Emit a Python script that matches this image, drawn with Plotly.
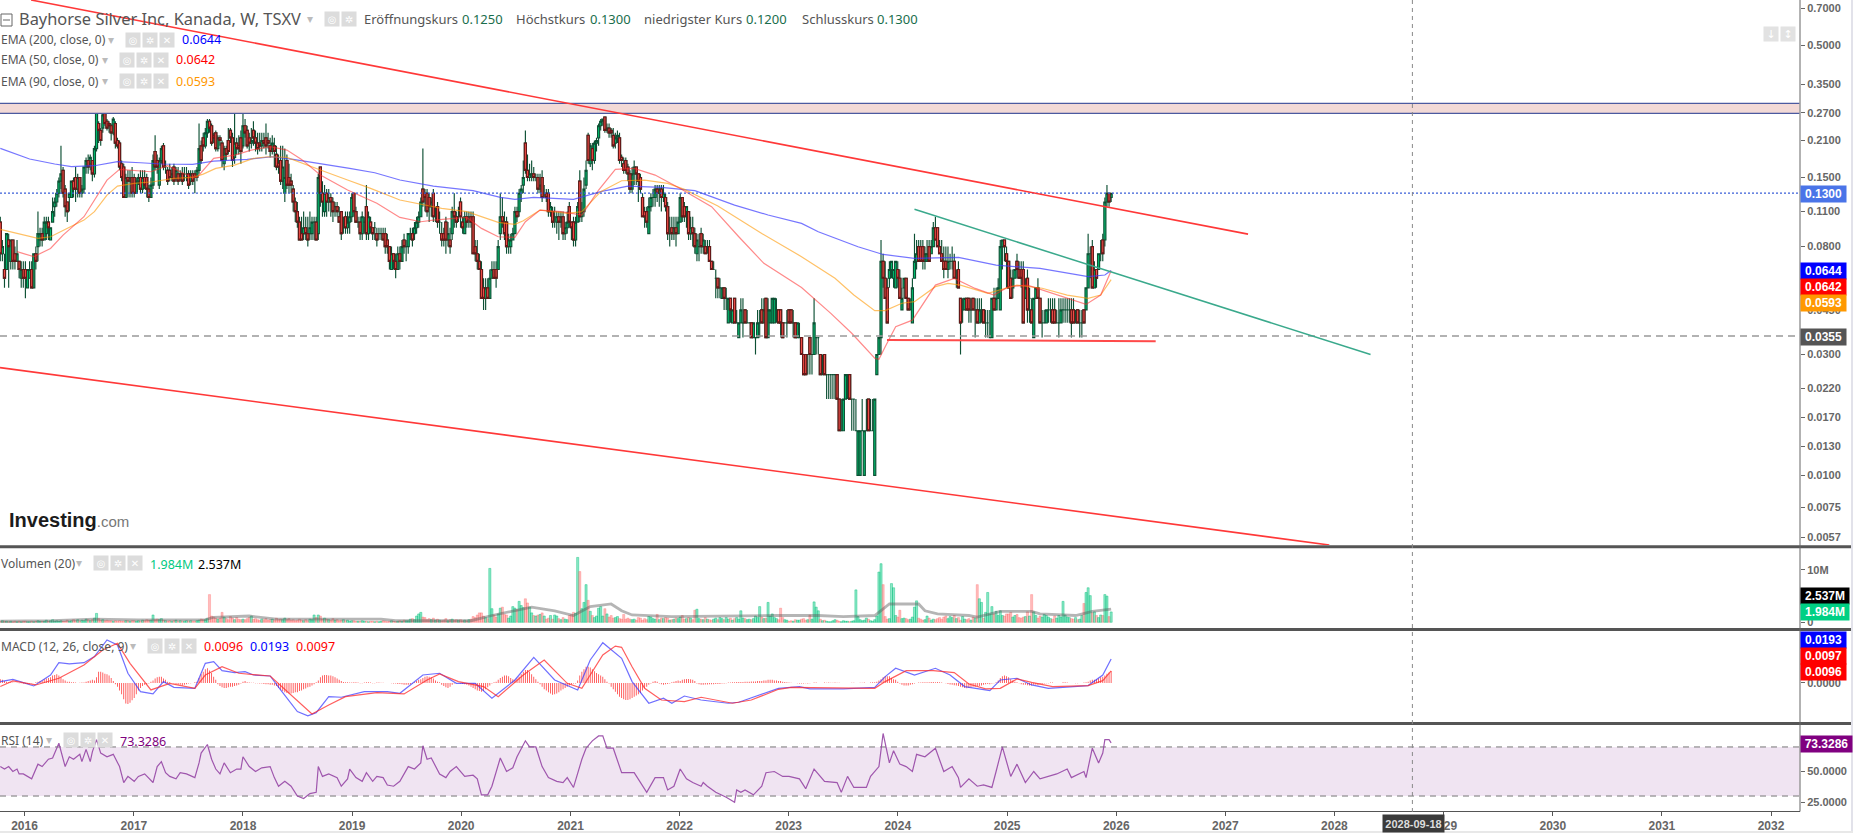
import pandas as pd
import plotly.graph_objects as go

W, H = 1853, 833

# weekly candles, prices in thousandths of a dollar, volume in millions, MACD histogram in 1e-4
open_2015 = [100,75,65,65,85,70,85,75,70,70,60,65]
high_2015 = [105,85,75,90,90,85,85,80,85,70,70,70]
low_2015 = [70,70,55,65,55,65,65,65,70,60,55,55]
close_2015 = [75,80,60,90,80,85,70,70,75,65,65,60]
vol_2015 = [.2,.3,.2,.2,.1,.2,.1,.2,.1,.2,.1,.2]
hist_2015 = [30,25,15,10,5,5,3,2,2,-3,-3,-5]

open_2016 = [65,55,60,65,55,75,80,85,90,85,90,100,85,100,115,120,130,145,160,135,120,125,125,145,150,135,150,130,135,165,175,170,175,155,195,245,230,235,275,250,245,240,225,245,210,205,170,165,125,150,145,150]
high_2016 = [70,65,70,70,75,80,110,95,95,105,105,105,95,125,125,135,150,200,165,140,120,130,145,150,165,155,150,140,165,180,185,185,175,200,290,250,235,280,285,255,250,245,260,250,215,210,175,170,155,160,160,165]
low_2016 = [50,55,60,55,55,65,70,80,80,85,85,85,85,100,105,115,125,135,125,105,100,110,125,125,120,125,125,125,130,155,155,160,145,150,190,205,200,225,240,230,225,210,220,195,195,160,145,125,125,125,125,125]
close_2016 = [60,65,65,55,75,70,90,90,85,100,100,95,95,110,120,130,145,155,130,115,110,130,145,135,135,150,130,135,165,175,165,180,155,195,275,230,210,265,245,235,240,225,255,205,200,165,150,125,150,145,150,130]
vol_2016 = [.2,.1,.1,.2,.1,.2,.3,.2,.2,.2,.4,.2,.3,.5,.2,.3,.2,.3,.2,.2,.4,.2,.3,.5,.3,.5,.2,.4,.3,.6,.5,.3,.5,.8,1.7,.7,.4,.5,.3,.4,.3,.3,.2,.3,.2,.3,.2,.2,.3,.3,.2,.3]
hist_2016 = [-5,-8,-5,-3,0,5,10,15,20,30,35,40,45,60,65,70,60,45,30,20,10,10,5,5,3,0,2,3,3,10,15,20,25,20,45,90,90,85,75,70,60,40,15,-10,-30,-60,-90,-130,-165,-170,-160,-140]

open_2017 = [150,130,145,150,135,150,150,135,125,140,190,175,140,175,200,165,160,160,150,165,150,155,150,155,155,150,155,145,155,155,150,160,200,215,200,225,250,240,220,225,195,215,205,170,195,210,230,215,180,205,200,215]
high_2017 = [155,150,155,160,160,160,155,140,150,185,220,185,180,200,205,175,165,170,165,170,165,165,160,165,165,165,160,160,160,160,165,245,210,225,235,255,255,245,225,230,220,220,210,200,200,235,235,225,270,215,220,230]
low_2017 = [125,130,140,130,130,135,125,120,125,135,160,155,135,170,160,155,140,145,145,140,145,140,145,140,145,145,135,140,140,130,145,155,170,190,195,215,225,200,205,190,190,200,165,160,175,185,205,165,170,185,185,170]
close_2017 = [130,145,150,135,150,140,135,125,140,175,165,165,175,195,165,165,145,150,155,145,160,145,155,145,155,150,140,155,145,150,160,195,175,200,225,250,235,205,215,195,215,210,175,195,185,190,215,175,205,195,195,190]
vol_2017 = [.3,.2,.3,.2,.4,.3,.5,.4,.4,1.4,.5,.6,.5,.7,.4,.3,.2,.3,.2,.3,.4,.2,.3,.2,.2,.3,.2,.3,.2,.2,.3,.4,.6,.5,.5,.7,5.3,1.2,1,.8,.6,.8,1.9,1,.7,.5,1.1,.8,.5,.9,.6,.5]
hist_2017 = [-120,-90,-60,-40,-25,-15,-10,-5,10,20,35,45,50,50,35,25,10,5,0,-5,-10,-15,-15,-20,-15,-10,-5,-3,0,5,10,40,70,90,110,118,100,80,50,25,-10,-25,-35,-40,-40,-35,-30,-30,-25,-20,-15,-5]

open_2018 = [200,240,230,215,205,230,215,205,205,200,210,215,210,200,190,200,185,170,175,145,130,175,150,145,135,120,110,100,90,90,95,90,90,90,100,100,90,165,130,110,130,120,125,120,115,115,105,110,95,105,95,100,105]
high_2018 = [270,255,240,225,235,250,230,225,225,225,225,245,225,215,220,215,200,185,200,200,195,185,170,155,140,125,120,105,105,110,105,105,110,105,105,105,155,165,145,140,135,135,130,125,120,120,115,110,105,110,110,110,130]
low_2018 = [195,215,195,190,195,200,190,185,190,190,195,185,195,180,185,165,160,155,140,135,120,135,130,130,110,100,95,85,85,85,85,80,85,85,85,85,85,115,105,105,105,110,105,100,105,105,100,85,90,90,90,90,100]
close_2018 = [240,225,200,205,210,215,205,195,200,210,205,200,205,190,205,190,165,165,145,165,150,140,140,140,120,110,100,85,85,95,90,85,95,100,100,85,150,130,120,130,120,125,120,110,115,110,100,90,95,95,100,105,125]
vol_2018 = [.6,.5,.7,.9,1.2,.6,.7,.5,.4,.6,.5,.7,.4,.5,.6,.4,.8,.5,.6,.5,.8,.5,.7,.4,.5,.3,.4,.6,.4,.3,.5,.3,.6,.5,1.4,.9,1.4,1.2,.6,.8,.6,.5,.4,.7,.4,.5,.3,.4,.5,.3,.4,.2,.3]
hist_2018 = [10,15,5,3,2,2,-2,-3,-5,-5,-8,-10,-10,-15,-15,-20,-25,-40,-55,-65,-75,-80,-85,-85,-80,-75,-75,-65,-60,-50,-45,-35,-30,-20,-10,5,20,45,60,65,65,60,60,55,45,35,25,15,8,5,5,3,3]

open_2019 = [130,110,100,100,90,100,115,90,100,95,95,90,90,90,90,90,85,80,65,75,70,65,75,70,85,80,80,90,90,90,95,100,105,135,130,130,125,115,130,110,115,100,90,90,100,85,85,90,110,105,105,120]
high_2019 = [130,115,105,105,110,105,140,110,105,95,100,95,95,95,95,95,90,80,80,75,75,80,80,85,90,85,90,95,95,100,105,110,125,195,135,135,130,125,135,115,120,110,100,95,105,100,95,115,130,110,115,125]
low_2019 = [105,100,95,85,85,90,85,85,90,85,85,80,85,85,85,75,75,65,65,65,60,65,65,70,75,70,75,85,80,85,90,95,105,115,110,105,100,105,100,100,95,90,80,80,75,80,75,85,95,95,100,95]
close_2019 = [110,100,100,90,105,100,90,105,95,90,95,85,90,90,85,80,80,70,75,70,65,75,70,80,80,80,90,90,85,95,100,105,120,120,125,110,115,120,105,110,100,100,85,85,85,90,80,110,105,100,105,105]
vol_2019 = [.3,.2,.2,.2,.3,.2,.2,.1,.2,.2,.1,.2,.1,.2,.3,.2,.1,.2,.3,.2,.1,.2,.3,.2,.4,.3,.3,.6,.7,.5,1.2,1.6,1.9,1,.9,.5,.7,.5,.8,.4,.6,.4,.3,.4,.7,.3,.5,.6,.4,.5,.4,.5]
hist_2019 = [5,5,3,-3,-3,3,5,5,3,-3,-3,3,3,2,2,0,0,0,-3,-5,-5,-8,-8,-10,-15,-15,-15,-10,-5,5,15,25,30,40,50,55,50,45,35,20,10,5,-15,-25,-35,-40,-30,-15,-5,0,0,-5]

open_2020 = [100,90,105,105,105,105,80,75,70,65,55,50,55,50,60,65,65,65,90,105,100,100,80,80,85,90,110,110,130,140,205,160,150,155,155,150,150,135,150,130,130,130,110,110,105,100,105,100,105,90,95,115]
high_2020 = [105,110,110,110,110,110,85,85,75,70,60,60,60,65,70,70,70,85,130,125,110,105,90,90,95,115,115,135,140,175,230,185,170,175,165,155,155,155,160,140,135,135,120,115,115,110,110,110,110,100,110,120]
low_2020 = [90,90,95,95,95,75,70,65,65,50,45,45,50,50,60,60,55,65,85,95,85,75,75,75,85,90,100,105,120,130,155,145,145,145,145,145,130,130,120,125,120,105,105,95,95,90,85,95,85,85,90,95]
close_2020 = [95,105,100,105,100,75,75,70,65,50,50,55,50,60,65,60,60,80,105,100,90,80,85,85,90,110,105,130,135,150,160,150,155,155,150,150,135,140,125,130,125,110,115,100,105,105,100,105,90,95,100,100]
vol_2020 = [.3,.4,.3,.5,.6,1.1,.9,1.4,1.8,1.8,1.2,.9,.7,10.3,2.6,1.4,1,1.6,2.7,2.9,1.5,1.4,.8,1.2,3,2.7,2.4,4,3.2,2.8,4.5,3.7,2.9,1.8,1.3,1.2,1.4,1.5,1.8,1.2,.6,.8,1.3,.6,1.4,1.2,.7,.5,.9,.6,.5,1.3]
hist_2020 = [-8,-10,-15,-20,-30,-40,-50,-60,-65,-70,-65,-50,-35,-20,-5,5,10,25,40,50,60,60,55,40,30,25,35,50,70,90,105,105,90,70,50,30,10,-10,-30,-50,-60,-75,-85,-94,-90,-85,-75,-60,-50,-40,-30,-20]

open_2021 = [100,100,85,100,145,105,110,140,220,170,195,175,205,215,240,250,260,230,235,230,220,205,215,215,180,170,175,165,155,135,155,165,155,150,125,110,110,90,115,125,125,135,130,135,125,125,115,90,95,90,95,90]
high_2021 = [100,105,105,120,160,120,150,175,225,205,205,210,215,245,255,255,260,245,245,235,235,225,230,225,185,180,180,170,160,165,175,165,155,155,130,115,115,125,130,135,140,140,140,140,140,130,120,105,105,105,105,105]
low_2021 = [85,80,80,100,100,100,105,135,170,165,160,170,190,200,230,240,225,225,215,215,195,195,205,170,165,155,155,145,130,130,140,140,120,130,105,95,95,90,110,115,115,120,115,110,120,110,85,80,85,85,80,90]
close_2021 = [95,85,100,115,105,110,135,160,175,200,175,205,210,240,250,255,230,235,225,225,200,215,220,175,175,160,160,155,135,155,165,155,145,135,105,105,100,115,125,125,135,130,135,125,130,115,90,90,90,95,90,100]
vol_2021 = [1.5,1.9,1.7,12.4,9.7,2.6,3.8,7.2,4.2,2.1,1.3,.9,1.2,2.7,3,1.2,2.6,1.6,1,1.3,.8,.9,1.1,.7,.6,1.5,.6,.8,.6,.5,.6,.4,.9,.8,.4,.7,.5,1.1,1,.7,.6,1.5,.5,.8,.7,.9,.8,.4,.5,.6,.8,.7]
hist_2021 = [-10,-5,-5,20,60,90,110,130,131,125,110,95,80,70,60,50,30,10,-5,-30,-50,-70,-90,-110,-120,-130,-137,-137,-130,-120,-110,-100,-90,-80,-60,-40,-30,-15,-5,10,15,10,-5,-10,-15,-10,-8,-5,5,10,15,20]

open_2022 = [100,125,115,110,110,90,95,90,75,80,90,80,80,80,80,70,65,60,60,55,50,55,50,40,50,40,50,40,35,40,40,45,40,40,40,35,35,35,40,45,40,50,35,40,40,40,45,45,45,40,40,40]
high_2022 = [130,125,120,115,110,105,105,95,90,90,95,90,85,85,85,70,70,65,60,60,55,55,55,50,50,45,50,45,40,50,50,45,45,40,40,40,35,45,45,50,50,50,50,45,50,50,50,45,45,40,40,45]
low_2022 = [100,100,100,95,85,85,80,75,70,70,75,75,75,75,70,65,65,50,50,50,50,45,45,40,40,40,40,40,35,40,35,40,40,40,35,35,30,35,35,40,40,35,35,40,40,40,40,40,35,35,40,35]
close_2022 = [125,105,105,115,90,95,90,80,85,80,80,85,75,80,70,65,65,60,55,55,55,50,50,50,45,45,40,40,40,45,40,40,40,40,35,40,35,40,40,40,45,35,45,45,50,50,45,40,40,35,40,40]
vol_2022 = [1,1.3,.6,.7,.9,.8,.5,2.3,2.5,.7,.6,.5,.9,.6,.5,.4,.6,.8,.5,.9,.7,.5,.9,.6,.8,.4,.7,.9,.6,2.2,.8,.7,.5,.6,.5,.7,1.2,.9,3,1,.7,.8,3.8,1.2,1.6,.9,.7,.5,2.7,.9,.5,.4]
hist_2022 = [15,25,30,32,32,30,25,15,-5,-10,-15,-15,-12,-12,-10,-10,-10,-8,-8,-8,-5,-5,-3,3,3,5,5,8,8,8,8,10,10,10,12,12,12,15,15,15,20,20,25,25,25,20,20,15,15,10,8,5]

open_2023 = [45,45,40,40,35,35,35,30,30,30,35,30,30,35,35,30,25,30,25,25,25,25,25,25,20,15,15,20,25,25,20,20,15,10,10,15,10,15,20,15,15,10,25,30,35,70,60,55,60,65,60,55]
high_2023 = [45,45,45,40,40,40,35,30,30,30,35,30,50,35,35,30,30,30,25,25,25,25,25,25,20,20,20,25,25,25,20,20,20,15,15,20,15,20,20,20,20,20,30,35,85,75,70,60,70,70,65,70]
low_2023 = [40,40,35,35,35,35,30,25,25,25,25,25,30,30,30,25,25,25,20,20,20,20,20,20,15,15,15,20,20,20,15,15,15,10,10,15,10,15,15,15,15,10,25,30,30,55,50,40,55,60,55,55]
close_2023 = [40,40,40,35,40,35,30,25,25,30,30,30,40,35,35,25,25,25,25,25,25,25,25,20,15,15,20,25,25,20,20,20,15,15,15,15,15,15,15,15,15,20,30,35,70,60,50,40,65,70,65,70]
vol_2023 = [.2,.3,.2,.5,.4,.4,.6,.7,.4,.5,1.4,.6,3.9,2.9,2.2,.6,.3,.4,.2,.1,.1,.3,.5,.4,.2,.1,.3,.2,.2,.1,.2,.3,6.2,1.1,.5,.3,.4,.8,.6,.3,.2,.5,1.2,9.6,11.2,7.2,1.1,.6,.7,7.4,6.6,1.3]
hist_2023 = [3,2,0,0,-3,-5,-5,-5,-3,-5,-3,0,3,3,0,0,0,3,2,3,2,2,3,2,2,0,0,0,0,0,2,2,0,0,2,2,3,0,0,3,5,5,10,20,30,45,55,55,55,40,30,25]

open_2024 = [65,60,45,55,60,50,45,40,60,70,80,80,80,70,70,80,75,80,95,95,80,75,70,70,65,70,70,70,60,65,50,45,45,50,50,45,50,45,45,40,45,45,40,40,35,35,50,45,50,45,80,85,75]
high_2024 = [70,65,55,60,60,50,50,60,90,85,85,85,85,80,85,85,85,100,105,95,85,85,80,80,80,75,80,75,65,70,50,50,50,50,50,50,50,50,50,50,50,45,45,45,45,50,55,55,60,85,85,85,80]
low_2024 = [55,50,45,50,50,45,45,40,60,65,70,70,65,65,70,70,75,80,85,80,75,70,60,65,60,65,65,60,55,55,30,40,45,45,40,40,45,35,40,40,40,40,35,35,35,35,45,45,50,45,65,70,55]
close_2024 = [60,50,50,60,50,45,45,55,70,75,70,70,70,75,75,70,80,95,85,80,75,70,65,65,70,70,70,60,60,55,40,45,50,45,45,45,45,45,40,45,45,40,40,40,35,50,45,50,55,80,85,80,70]
vol_2024 = [1,2.3,.7,.8,.7,.5,.6,1,2.9,4.1,.8,.6,.4,.5,1.2,.8,.4,.6,.5,.7,.9,.6,1,1.2,.7,1.1,.9,1.3,.7,.9,.4,1.1,.6,.5,.7,.4,1,.8,7.2,4.5,3.8,.8,1.9,5.7,1.6,3,1.6,2.1,1.3,2.2,1.3,1.2,1.6]
hist_2024 = [10,-5,-15,-20,-20,-20,-15,-10,-5,0,3,3,5,5,5,5,8,8,5,8,5,3,0,-3,-8,-12,-15,-18,-20,-25,-30,-35,-40,-42,-40,-35,-30,-30,-25,-25,-20,-15,-10,-8,-10,-5,-3,5,20,40,55,60,55]

open_2025 = [70,60,55,60,70,65,65,65,50,60,50,45,35,50,55,50,40,40,40,45,45,45,45,40,40,40,45,45,45,45,45,45,40,45,40,40,45,45,55,75,80,55,65,65,75,85,85,120,130,125]
high_2025 = [70,65,65,65,75,70,70,70,60,65,55,50,50,55,60,50,45,45,45,50,50,50,50,45,50,50,50,50,50,50,50,50,45,45,45,45,45,55,90,80,85,70,65,75,85,90,125,140,130,130]
low_2025 = [55,50,50,60,60,60,55,40,50,40,40,40,35,50,50,40,35,40,40,40,40,40,40,40,35,40,40,40,40,40,35,40,40,40,35,35,40,45,55,60,55,55,55,65,70,70,80,115,115,120]
close_2025 = [55,50,60,65,65,60,60,40,55,45,50,40,50,55,50,40,40,40,45,45,45,40,40,40,40,45,45,45,45,45,40,40,40,40,40,40,40,55,75,75,55,65,60,75,75,75,120,130,120,130]
vol_2025 = [1.6,1.9,1,1.3,1.5,.9,.8,1,1.1,2,1.2,5.3,2,1.3,.8,1.2,1,1.5,1.3,1,.7,.6,1.2,.8,1.3,1,4,1.4,1,.9,.7,.6,.9,.5,.6,1.3,3.6,5.7,6.6,5.1,1.8,2,1.3,.9,1.4,1.3,5.3,5,1.1,1.984]
hist_2025 = [45,30,20,10,5,-3,-10,-15,-15,-18,-20,-20,-15,-15,-18,-12,-10,-5,-3,-3,3,3,0,0,0,0,5,5,3,0,0,0,-3,-3,0,0,3,5,10,20,25,25,30,35,45,50,60,75,85,96]

# indicator lines, read as (bar index, value)
ema200_idx = [0,14,26,34,45,56,67,77,92,102,118,130,140,153,167,179,191,207,226,239,246,255,274,287,300,316,332,351,367,383,391,410,422,437,458,476,497,520,528,531]
ema200_val = [.1955,.1774,.1695,.1654,.1669,.1731,.1715,.1695,.1689,.1741,.1768,.1811,.1768,.1705,.1629,.1566,.1466,.1387,.133,.1252,.1229,.1252,.1229,.1318,.1387,.1371,.133,.1167,.1066,.0988,.0916,.0799,.0745,.0719,.0725,.0676,.0656,.0609,.0618,.0644]
ema90_idx = [0,18,24,32,40,45,51,56,64,73,83,92,97,103,112,121,128,137,145,153,166,177,191,199,211,223,238,246,250,258,271,278,287,297,308,319,327,343,364,383,399,408,418,423,431,437,447,453,459,472,477,486,498,510,520,526,531]
ema90_val = [.0936,.0862,.0875,.0944,.1018,.1099,.1278,.1387,.1421,.1443,.1487,.1501,.1547,.1629,.1679,.1784,.1811,.18,.1705,.1605,.1465,.1358,.1222,.1186,.1132,.1099,.0998,.0979,.1012,.1115,.1082,.1099,.1318,.1456,.1465,.1421,.1346,.1157,.0902,.073,.06,.0515,.0447,.0447,.0478,.0485,.0556,.0573,.0564,.0523,.0536,.0564,.0548,.0515,.05,.0515,.0593]
ema50_idx = [8,16,24,30,40,45,51,57,64,72,80,91,94,102,112,120,129,137,144,153,166,180,191,201,207,223,230,238,246,251,258,268,278,286,294,303,313,325,340,353,365,383,397,407,418,420,423,428,436,447,456,466,475,482,491,498,510,519,526,531]
ema50_val = [.0764,.073,.0787,.0888,.105,.1222,.1465,.1615,.1595,.158,.1669,.151,.1501,.1784,.1839,.1924,.1984,.1924,.1768,.1533,.1338,.1186,.1043,.1003,.1018,.1043,.0944,.0875,.087,.1003,.1115,.1099,.1066,.1338,.1615,.1629,.1533,.1358,.115,.0875,.0687,.0552,.0436,.0364,.029,.0287,.0322,.0386,.041,.0564,.0599,.0547,.0515,.0556,.0564,.0539,.05,.0473,.0515,.0642]
volma_idx = [0,25,45,66,98,102,119,132,182,189,225,235,254,265,274,282,292,297,302,321,372,391,403,418,425,439,442,448,463,467,478,493,497,514,522,531]
volma_val = [.2,.3,.6,.45,.5,.96,1.2,.6,.6,.3,.3,1.3,2.9,2.2,1.3,3,3.5,2.2,1.4,1.1,1.3,1.3,1.1,1.3,3.5,3.5,2.2,1.6,1.3,1,2.1,2.1,1.6,1.3,2.1,2.537]
macd_idx = [0,6,11,16,24,28,33,40,45,51,56,61,67,73,78,83,93,98,102,106,112,117,121,129,134,142,147,151,157,163,174,185,191,202,210,218,227,235,246,255,265,276,282,288,297,302,310,317,321,327,335,348,353,363,372,382,387,403,418,423,428,437,447,454,461,473,478,486,493,501,520,527,531]
macd_val = [11,29,3,-24,64,163,153,163,212,346,306,78,-70,-88,11,-35,-43,158,172,99,83,91,64,56,-56,-230,-265,-239,-110,-115,-70,-70,-83,64,78,-3,-3,-123,24,206,24,-56,185,324,198,11,-163,-123,-163,-105,-137,-163,-155,-96,-43,-29,-48,-48,-35,51,118,64,118,64,-29,-62,24,38,-16,-43,-21,64,193]
signal_idx = [0,6,17,28,40,49,56,62,72,81,93,98,106,114,129,138,149,157,165,180,193,204,210,219,231,238,250,260,271,278,288,294,297,302,308,316,327,335,350,359,372,378,418,423,433,446,456,463,471,478,486,493,503,520,527,531]
signal_val = [-29,16,-16,38,145,265,319,158,-56,-3,-43,64,131,78,56,-83,-249,-177,-110,-78,-88,24,72,11,-29,-110,64,185,-3,-43,225,297,287,131,-43,-137,-150,-115,-163,-137,-51,-35,-43,11,99,99,83,-8,-48,-43,32,5,-29,-21,19,97]
rsi_idx = [0,2,4,6,8,9,11,13,15,18,20,23,25,28,31,33,35,38,39,41,43,44,46,48,51,54,57,59,61,64,66,69,73,75,77,79,81,84,86,89,93,95,96,99,101,103,105,107,110,113,115,116,119,122,125,129,131,133,136,139,142,145,148,151,152,154,157,161,163,166,167,170,173,175,178,180,183,185,188,191,195,198,201,202,204,206,210,213,215,218,222,226,228,230,233,235,237,239,242,245,247,251,253,256,259,262,266,269,271,274,278,280,283,286,288,290,293,295,297,303,305,309,313,317,319,322,325,328,331,335,336,338,342,347,351,352,354,356,360,364,366,370,374,377,382,385,389,394,400,402,405,408,414,416,420,422,425,427,430,433,436,438,442,444,447,451,455,458,459,463,467,470,474,476,479,483,486,490,494,497,505,510,512,518,519,522,525,527,528,530,531]
rsi_val = [54,52,54,50,52,48,48,46,44,56,54,60,61,73,54,62,60,64,58,68,58,66,76,65,62,64,54,41,46,42,46,48,41,54,58,49,46,44,49,48,45,57,65,72,60,52,48,57,49,52,52,62,54,50,53,54,45,38,42,38,30,28,32,33,54,46,48,45,38,44,52,45,42,49,42,46,45,39,38,42,54,52,57,71,60,61,48,45,50,54,46,47,44,31,31,38,49,61,50,53,62,75,70,70,54,45,42,41,45,37,60,69,75,79,79,69,69,58,49,49,44,33,45,45,35,38,52,44,41,38,41,38,33,29,25,35,33,35,31,38,49,50,46,46,44,36,52,42,41,33,46,37,37,46,54,81,57,67,56,54,50,64,62,65,69,50,54,45,37,44,38,39,37,50,70,46,56,41,50,44,48,52,45,50,45,69,57,65,76,76,73.3286]

# hand drawn objects on the price pane, (date, price)
upper_dates = ["2016-01-23", "2027-03-18"]
upper_prices = [.7528, .0896]
lower_dates = ["2015-10-11", "2027-12-15"]
lower_prices = [.02664, .00531]
green_dates = ["2024-02-26", "2028-05-01"]
green_prices = [.1123, .0300]
support_dates = ["2023-11-26", "2026-05-13"]
support_prices = [.0342, .03387]
zone_top, zone_bottom = .2943, .2687
last_price, dash_price = .13, .0355
rsi_top, rsi_bottom = 70, 30

x_start, x_end = "2015-10-11", "2032-04-05"
crosshair_date = "2028-09-18"
years = list(range(2016, 2033))
price_ticks = [.7, .5, .35, .27, .21, .15, .11, .08, .06, .045, .03, .022, .017, .013, .01, .0075, .0057]
covered_ticks = [.06]

blocks = [2015, 2016, 2017, 2018, 2019, 2020, 2021, 2022, 2023, 2024, 2025]
tables = {"open": [open_2015, open_2016, open_2017, open_2018, open_2019, open_2020, open_2021, open_2022, open_2023, open_2024, open_2025],
          "high": [high_2015, high_2016, high_2017, high_2018, high_2019, high_2020, high_2021, high_2022, high_2023, high_2024, high_2025],
          "low": [low_2015, low_2016, low_2017, low_2018, low_2019, low_2020, low_2021, low_2022, low_2023, low_2024, low_2025],
          "close": [close_2015, close_2016, close_2017, close_2018, close_2019, close_2020, close_2021, close_2022, close_2023, close_2024, close_2025],
          "vol": [vol_2015, vol_2016, vol_2017, vol_2018, vol_2019, vol_2020, vol_2021, vol_2022, vol_2023, vol_2024, vol_2025],
          "hist": [hist_2015, hist_2016, hist_2017, hist_2018, hist_2019, hist_2020, hist_2021, hist_2022, hist_2023, hist_2024, hist_2025]}
for name, parts in tables.items():
    for year, part in zip(blocks, parts):
        assert len(part) == len(tables["open"][blocks.index(year)]), (name, year, len(part))

opens = [v / 1000 for part in tables["open"] for v in part]
highs = [v / 1000 for part in tables["high"] for v in part]
lows = [v / 1000 for part in tables["low"] for v in part]
closes = [v / 1000 for part in tables["close"] for v in part]
volume = [v for part in tables["vol"] for v in part]
histogram = [v / 10000 for part in tables["hist"] for v in part]
dates = pd.date_range(end="2025-12-15", periods=len(opens), freq="7D")


def px(x):
    return x / W


def py(y):
    return 1 - y / H


def at(idx):
    return [dates[i] for i in idx]


WICK = "#0d5034"
GREEN_BODY = "#00c070"
RED_BODY = "#f6524a"
RED_EDGE = "#651818"

fig = go.Figure()

# supply zone behind the candles, top and bottom edges only
fig.add_trace(go.Scatter(x=[x_start, x_end, x_end, x_start, x_start], y=[zone_top, zone_top, zone_bottom, zone_bottom, zone_top],
                         mode="lines", fill="toself", fillcolor="#f2d9d6", line=dict(width=0)))
for level in (zone_top, zone_bottom):
    fig.add_trace(go.Scatter(x=[x_start, x_end], y=[level, level], mode="lines", line=dict(color="#4b5aa0", width=1.2)))

# wicks are dark green on every candle, so red bodies get redrawn on top with their own edge
fig.add_trace(go.Candlestick(x=dates, open=opens, high=highs, low=lows, close=closes, whiskerwidth=0,
                             increasing=dict(line=dict(color=WICK, width=1.15), fillcolor=GREEN_BODY),
                             decreasing=dict(line=dict(color=WICK, width=1.15), fillcolor=RED_BODY)))
red = [i for i in range(len(opens)) if closes[i] < opens[i]]
fig.add_trace(go.Candlestick(x=at(red), open=[opens[i] for i in red], high=[opens[i] for i in red],
                             low=[closes[i] for i in red], close=[closes[i] for i in red], whiskerwidth=0,
                             increasing=dict(line=dict(color=RED_EDGE, width=1.15), fillcolor=RED_BODY),
                             decreasing=dict(line=dict(color=RED_EDGE, width=1.15), fillcolor=RED_BODY)))

for idx, val, color in [(ema200_idx, ema200_val, "rgba(60,60,255,.7)"),
                        (ema90_idx, ema90_val, "rgba(255,152,0,.6)"),
                        (ema50_idx, ema50_val, "rgba(255,40,40,.55)")]:
    fig.add_trace(go.Scatter(x=at(idx), y=val, mode="lines", line=dict(color=color, width=1.2)))

fig.add_trace(go.Scatter(x=[x_start, x_end], y=[last_price, last_price], mode="lines", line=dict(color="#3a5fd8", width=1.2, dash="2px,2px")))
fig.add_trace(go.Scatter(x=[x_start, x_end], y=[dash_price, dash_price], mode="lines", line=dict(color="#999999", width=1.5, dash="7px,5px")))
fig.add_trace(go.Scatter(x=upper_dates, y=upper_prices, mode="lines", line=dict(color="#ff3838", width=1.6)))
fig.add_trace(go.Scatter(x=lower_dates, y=lower_prices, mode="lines", line=dict(color="#ff3838", width=1.6)))
fig.add_trace(go.Scatter(x=green_dates, y=green_prices, mode="lines", line=dict(color="#3aa98c", width=1.5)))
fig.add_trace(go.Scatter(x=support_dates, y=support_prices, mode="lines", line=dict(color="#ff4a4a", width=2)))

# volume pane
vol_colors = ["rgba(255,90,90,.4)" if closes[i] < opens[i] else "rgba(0,205,130,.45)" for i in range(len(volume))]
vol_edges = ["rgba(255,90,90,.5)" if closes[i] < opens[i] else "rgba(0,190,120,.7)" for i in range(len(volume))]
fig.add_trace(go.Bar(x=dates, y=volume, width=7 * 86400000, marker=dict(color=vol_colors, line=dict(color=vol_edges, width=.6)), xaxis="x2", yaxis="y2"))
fig.add_trace(go.Scatter(x=at(volma_idx), y=volma_val, mode="lines", line=dict(color="rgba(90,90,90,.45)", width=2.8), xaxis="x2", yaxis="y2"))

# MACD pane
fig.add_trace(go.Bar(x=dates, y=histogram, width=2.8 * 86400000, marker=dict(color="rgba(255,50,50,.9)", line=dict(width=0)), xaxis="x3", yaxis="y3"))
fig.add_trace(go.Scatter(x=at(macd_idx), y=[v / 10000 for v in macd_val], mode="lines", line=dict(color="rgba(50,50,255,.7)", width=1.2), xaxis="x3", yaxis="y3"))
fig.add_trace(go.Scatter(x=at(signal_idx), y=[v / 10000 for v in signal_val], mode="lines", line=dict(color="rgba(255,40,40,.75)", width=1.2), xaxis="x3", yaxis="y3"))

# RSI pane
fig.add_trace(go.Scatter(x=[x_start, x_end, x_end, x_start, x_start], y=[rsi_top, rsi_top, rsi_bottom, rsi_bottom, rsi_top], mode="lines",
                         fill="toself", fillcolor="#f0e4f2", line=dict(width=0), xaxis="x4", yaxis="y4"))
for level in (rsi_top, rsi_bottom):
    fig.add_trace(go.Scatter(x=[x_start, x_end], y=[level, level], mode="lines", line=dict(color="#777777", width=1, dash="6px,5px"), xaxis="x4", yaxis="y4"))
fig.add_trace(go.Scatter(x=at(rsi_idx), y=rsi_val, mode="lines", line=dict(color="rgba(150,70,165,.9)", width=1.2), xaxis="x4", yaxis="y4"))

FONT = "Liberation Sans"
LEGEND_FONT = "Noto Sans"
annotations = []
shapes = []


def label(x, y, text, color="#555555", size=13, family=LEGEND_FONT, anchor="left"):
    annotations.append(dict(x=px(x), y=py(y), xref="paper", yref="paper", text=text, showarrow=False, xanchor=anchor, yanchor="middle",
                            font=dict(family=family, size=size, color=color), borderpad=0))


def icons(x, y, glyphs):
    for k, g in enumerate(glyphs):
        annotations.append(dict(x=px(x + 17 * k), y=py(y), xref="paper", yref="paper", text=g, showarrow=False, xanchor="left", yanchor="middle",
                                width=14, height=14, bgcolor="#dcdcdc", borderpad=0, align="center",
                                font=dict(family="DejaVu Sans", size=10, color="#ffffff")))


def flag(y, text, color, right=1845):
    annotations.append(dict(x=px(1800), y=py(y), xref="paper", yref="paper", text="<b>%s</b>" % text, showarrow=False, xanchor="left", yanchor="middle",
                            width=right - 1800, height=16, bgcolor=color, borderpad=0, align="center",
                            font=dict(family=FONT, size=12, color="#ffffff")))


# legend rows
shapes.append(dict(type="rect", xref="paper", yref="paper", x0=px(1), x1=px(12), y0=py(26), y1=py(14), line=dict(color="#666666", width=1)))
shapes.append(dict(type="line", xref="paper", yref="paper", x0=px(3), x1=px(10), y0=py(20), y1=py(20), line=dict(color="#666666", width=1)))
label(18, 19, "Bayhorse Silver Inc, Kanada, W, TSXV", size=16.4)
label(306, 19, "▾", color="#bbbbbb", size=12, family="DejaVu Sans")
icons(324, 19, ["◎", "✲"])
VAL = "#1a6e4c"
for x, text, color in [(363, "Eröffnungskurs", "#555555"), (461, "0.1250", VAL), (515, "Höchstkurs", "#555555"), (589, "0.1300", VAL),
                       (643, "niedrigster Kurs", "#555555"), (745, "0.1200", VAL), (801, "Schlusskurs", "#555555"), (876, "0.1300", VAL)]:
    label(x, 19, text, color=color, size=13)

for y, name, caret, ico, value, color in [(40, "EMA (200, close, 0)", 107, 125, "0.0644", "#0000ff"),
                                          (60, "EMA (50, close, 0)", 101, 119, "0.0642", "#ff0000"),
                                          (81, "EMA (90, close, 0)", 101, 119, "0.0593", "#ff9800")]:
    label(0, y, name, size=12)
    label(caret, y, "▾", color="#bbbbbb", size=12, family="DejaVu Sans")
    icons(ico, y, ["◎", "✲", "✕"])
    label(ico + 56, y, value, color=color, size=12.5)

label(0, 563, "Volumen (20)", size=12)
label(75, 563, "▾", color="#bbbbbb", size=12, family="DejaVu Sans")
icons(93, 563, ["◎", "✲", "✕"])
label(149, 564, "1.984M", color="#00c97f", size=12.5)
label(197, 564, "2.537M", color="#000000", size=12.5)

label(0, 646, "MACD (12, 26, close, 9)", size=12)
label(129, 646, "▾", color="#bbbbbb", size=12, family="DejaVu Sans")
icons(147, 646, ["◎", "✲", "✕"])
label(203, 646, "0.0096", color="#ff0000", size=12.5)
label(249, 646, "0.0193", color="#0000ff", size=12.5)
label(295, 646, "0.0097", color="#ff0000", size=12.5)

label(0, 740, "RSI (14)", size=12)
label(45, 740, "▾", color="#bbbbbb", size=12, family="DejaVu Sans")
icons(63, 740, ["◎", "✲", "✕"])
label(119, 741, "73.3286", color="#800080", size=12.5)

# watermark and the two scale buttons
annotations.append(dict(x=px(7), y=py(520), xref="paper", yref="paper", xanchor="left", yanchor="middle", showarrow=False,
                        text='<b>Investing</b><span style="color:#777777;font-size:15px">.com</span>', font=dict(family=FONT, size=20, color="#1c1c1c")))
for x, g in [(1763, "↓"), (1780, "↕")]:
    annotations.append(dict(x=px(x), y=py(34), xref="paper", yref="paper", text=g, showarrow=False, xanchor="left", yanchor="middle",
                            width=14, height=14, bgcolor="#e2e2e2", borderpad=0, align="center", font=dict(family="DejaVu Sans", size=11, color="#ffffff")))

# price labels on the right scale
flag(193.5, "0.1300", "#4a74e8")
flag(271, "0.0644", "#0000ff")
flag(287, "0.0642", "#ff0000")
flag(303, "0.0593", "#ff9800")
flag(337, "0.0355", "#555555")
flag(596, "2.537M", "#000000", 1848)
flag(612, "1.984M", "#00d084", 1848)
flag(640, "0.0193", "#0000ff")
flag(656, "0.0097", "#ff0000")
flag(672, "0.0096", "#ff0000")
flag(744, "73.3286", "#800080", 1851)
annotations.append(dict(x=px(1382), y=py(823), xref="paper", yref="paper", text="<b>%s</b>" % crosshair_date, showarrow=False, xanchor="left", yanchor="middle",
                        width=61, height=17, bgcolor="#3a3a3a", borderpad=0, align="center", font=dict(family=FONT, size=11, color="#dddddd")))

# pane separators, right scale line, crosshair, window edges
for y in (546.7, 629.5, 723.5):
    shapes.append(dict(type="line", xref="paper", yref="paper", x0=0, x1=px(1851), y0=py(y), y1=py(y), line=dict(color="#555555", width=3), layer="above"))
shapes.append(dict(type="line", xref="paper", yref="paper", x0=px(1800), x1=px(1800), y0=py(0), y1=py(811.5), line=dict(color="#666666", width=1)))
shapes.append(dict(type="line", xref="paper", yref="paper", x0=0, x1=px(1800), y0=py(811.5), y1=py(811.5), line=dict(color="#555555", width=1)))
shapes.append(dict(type="line", xref="x", yref="paper", x0=crosshair_date, x1=crosshair_date, y0=py(0), y1=py(812), line=dict(color="#888888", width=1, dash="4px,4px")))
shapes.append(dict(type="line", xref="paper", yref="paper", x0=px(1852), x1=px(1852), y0=0, y1=1, line=dict(color="#e2e2ea", width=2)))
shapes.append(dict(type="line", xref="paper", yref="paper", x0=0, x1=1, y0=py(832), y1=py(832), line=dict(color="#e8e8e8", width=2)))

tick_font = dict(family=FONT, size=11, color="#666666")
x_common = dict(type="date", range=[x_start, "2032-04-07"], domain=[0, px(1800)], showgrid=False, zeroline=False,
                rangeslider=dict(visible=False), showline=False)
y_common = dict(side="right", showgrid=False, zeroline=False, showline=False, ticks="outside", ticklen=4, tickcolor="#666666", tickfont=tick_font)

# labels that the flags cover keep their tick mark but no text
fig.update_layout(
    width=W, height=H, margin=dict(l=0, r=0, t=0, b=0), autosize=False,
    paper_bgcolor="#ffffff", plot_bgcolor="#ffffff", showlegend=False, hovermode=False,
    boxgap=0, boxgroupgap=0, boxmode="overlay", barmode="overlay",
    annotations=annotations, shapes=shapes,
    xaxis=dict(x_common, anchor="y", showticklabels=False, ticks=""),
    xaxis2=dict(x_common, anchor="y2", matches="x", showticklabels=False, ticks=""),
    xaxis3=dict(x_common, anchor="y3", matches="x", showticklabels=False, ticks=""),
    xaxis4=dict(x_common, anchor="y4", matches="x", ticks="outside", ticklen=4, tickcolor="#555555",
                tickvals=["%d-01-01" % y for y in years], ticktext=["<b>%d</b>" % y for y in years],
                tickfont=dict(family=FONT, size=12, color="#666666")),
    yaxis=dict(y_common, anchor="x", type="log", domain=[py(545), 1], range=[-2.2749, -0.1233],
               tickvals=price_ticks, ticktext=["" if t in covered_ticks else "<b>%.4f</b>" % t for t in price_ticks]),
    yaxis2=dict(y_common, anchor="x2", domain=[py(628), py(548)], range=[-1.09, 14.2],
                tickvals=[0, 5, 10], ticktext=["<b>0</b>", "", "<b>10M</b>"]),
    yaxis3=dict(y_common, anchor="x3", domain=[py(723), py(631)], range=[-.0322, .0418],
                tickvals=[0, .01, .02], ticktext=["<b>0.0000</b>", "", ""]),
    yaxis4=dict(y_common, anchor="x4", domain=[py(811), py(725)], range=[17.8, 87.9],
                tickvals=[25, 50, 75], ticktext=["<b>25.0000</b>", "<b>50.0000</b>", ""]),
)

fig.write_html("out.html", config=dict(displayModeBar=False), post_script="document.body.style.margin='0';")
